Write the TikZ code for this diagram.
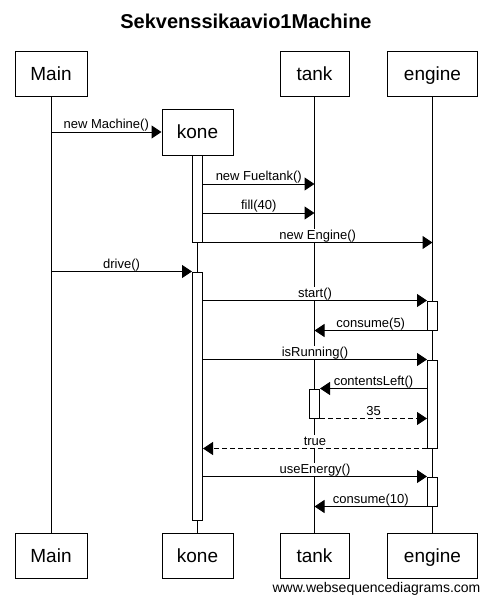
\documentclass[tikz,border=0pt]{standalone}
\usepackage{fontspec}
\setmainfont{Liberation Sans}
\usetikzlibrary{arrows.meta}
\tikzset{
  obj/.style={draw, line width=1pt, fill=white, inner sep=0pt, minimum height=45pt,
    text height=13.6pt, text depth=0pt, font=\fontsize{19}{19}\selectfont},
  act/.style={draw, line width=1pt, fill=white, inner sep=0pt, minimum width=10pt},
  msg/.style={line width=1pt, -{Triangle[length=10pt,width=13pt]}},
  ret/.style={msg, dash pattern=on 5pt off 3pt},
  lbl/.style={midway, above, fill=white, inner sep=0.5pt, yshift=0.5pt,
    text height=9.5pt, text depth=2pt, font=\fontsize{13}{13}\selectfont}
}
\begin{document}
\begin{tikzpicture}[x=1pt, y=-1pt]
\useasboundingbox (0,0) rectangle (491,603);
\node[anchor=base, font=\bfseries\fontsize{20}{20}\selectfont] (title) at (246,28) {Sekvenssikaavio1Machine};
% objects
\node[obj, minimum width=72pt] (mainT) at (51,73.5) {Main};
\node[obj, minimum width=71pt, minimum height=46pt] (koneT) at (197.5,132) {kone};
\node[obj, minimum width=69pt] (tankT) at (314.5,73.5) {tank};
\node[obj, minimum width=90pt] (engT) at (432.5,73.5) {engine};
\node[obj, minimum width=72pt] (mainB) at (51,555.5) {Main};
\node[obj, minimum width=71pt] (koneB) at (197.5,555.5) {kone};
\node[obj, minimum width=69pt] (tankB) at (314.5,555.5) {tank};
\node[obj, minimum width=90pt] (engB) at (432.5,555.5) {engine};
% lifelines
\draw[line width=1pt] (mainT) -- (mainB) (koneT) -- (koneB) (tankT) -- (tankB) (engT) -- (engB);
% activations
\node[act, minimum height=87pt] (k1) at (197.5,198.5) {};
\node[act, minimum height=248pt] (k2) at (197.5,396) {};
\node[act, minimum height=29pt] (e1) at (432.5,315.5) {};
\node[act, minimum height=88pt] (e2) at (432.5,404) {};
\node[act, minimum height=29pt] (t1) at (314.5,403.5) {};
\node[act, minimum height=29pt] (e3) at (432.5,491.5) {};
% messages
\draw[msg] (mainT |- koneT.west) -- node[lbl]{new Machine()} (koneT.west);
\draw[msg] (k1.east |- 0,184) -- node[lbl]{new Fueltank()} (tankT |- 0,184);
\draw[msg] (k1.east |- 0,213) -- node[lbl]{fill(40)} (tankT |- 0,213);
\draw[msg] (k1.south east) -- node[lbl]{new Engine()} (engT |- k1.south east);
\draw[msg] (mainT |- k2.north) -- node[lbl]{drive()} (k2.north west);
\draw[msg] (k2.east |- e1.north) -- node[lbl]{start()} (e1.north west);
\draw[msg] (e1.south west) -- node[lbl]{consume(5)} (tankT |- e1.south);
\draw[msg] (k2.east |- e2.north) -- node[lbl]{isRunning()} (e2.north west);
\draw[msg] (e2.west |- t1.north) -- node[lbl]{contentsLeft()} (t1.north east);
\draw[ret] (t1.south east) -- node[lbl]{35} (e2.west |- t1.south);
\draw[ret] (e2.south west) -- node[lbl]{true} (k2.east |- e2.south);
\draw[msg] (k2.east |- e3.north) -- node[lbl]{useEnergy()} (e3.north west);
\draw[msg] (e3.south west) -- node[lbl]{consume(10)} (tankT |- e3.south);
\node[anchor=base, font=\fontsize{14}{14}\selectfont] (site) at (376.5,592) {www.websequencediagrams.com};
\end{tikzpicture}
\end{document}
